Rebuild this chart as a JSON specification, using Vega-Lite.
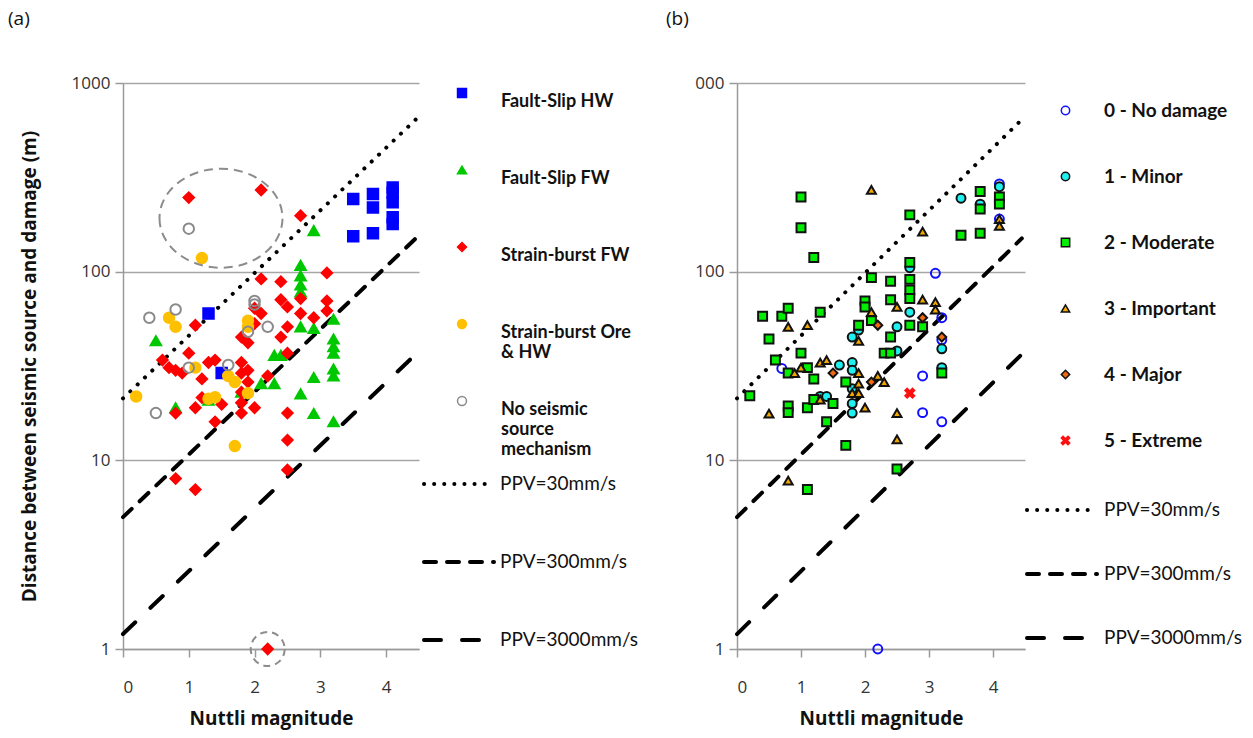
{
  "$schema": "https://vega.github.io/schema/vega-lite/v6.json",
  "background": "white",
  "padding": {"left": 8, "top": 10, "right": 2, "bottom": 2},
  "config": {
    "font": "Lato",
    "view": {"stroke": null},
    "axis": {"domainColor": "#9a9a9a", "tickColor": "#9a9a9a", "gridColor": "#a6a6a6", "labelColor": "#333333", "titleColor": "#111111", "labelFont": "Open Sans", "titleFont": "Open Sans", "labelFontSize": 17, "titleFontSize": 19, "titleFontWeight": "bold", "domainWidth": 1.5, "gridWidth": 1.5, "tickWidth": 1.5, "tickSize": 8},
    "title": {"font": "Open Sans", "fontSize": 19, "fontWeight": "normal", "color": "#111111"}
  },
  "datasets": {
    "a": [
      {"t": "Fault-Slip HW", "m": 3.5, "d": 243}, {"t": "Fault-Slip HW", "m": 3.5, "d": 154}, {"t": "Fault-Slip HW", "m": 3.8, "d": 258}, {"t": "Fault-Slip HW", "m": 3.8, "d": 219}, {"t": "Fault-Slip HW", "m": 3.8, "d": 160}, {"t": "Fault-Slip HW", "m": 4.1, "d": 279}, {"t": "Fault-Slip HW", "m": 4.1, "d": 262}, {"t": "Fault-Slip HW", "m": 4.1, "d": 233}, {"t": "Fault-Slip HW", "m": 4.1, "d": 194}, {"t": "Fault-Slip HW", "m": 4.1, "d": 179}, {"t": "Fault-Slip HW", "m": 1.3, "d": 60}, {"t": "Fault-Slip HW", "m": 1.5, "d": 29},
      {"t": "Fault-Slip FW", "m": 2.9, "d": 165}, {"t": "Fault-Slip FW", "m": 2.7, "d": 108}, {"t": "Fault-Slip FW", "m": 2.7, "d": 95}, {"t": "Fault-Slip FW", "m": 2.7, "d": 85}, {"t": "Fault-Slip FW", "m": 2.7, "d": 78}, {"t": "Fault-Slip FW", "m": 2.7, "d": 51}, {"t": "Fault-Slip FW", "m": 2.9, "d": 50}, {"t": "Fault-Slip FW", "m": 3.2, "d": 56}, {"t": "Fault-Slip FW", "m": 3.2, "d": 44}, {"t": "Fault-Slip FW", "m": 3.2, "d": 40}, {"t": "Fault-Slip FW", "m": 3.2, "d": 37}, {"t": "Fault-Slip FW", "m": 2.3, "d": 36}, {"t": "Fault-Slip FW", "m": 2.4, "d": 36}, {"t": "Fault-Slip FW", "m": 3.2, "d": 30.5}, {"t": "Fault-Slip FW", "m": 3.2, "d": 28}, {"t": "Fault-Slip FW", "m": 2.9, "d": 27.5}, {"t": "Fault-Slip FW", "m": 2.1, "d": 25.5}, {"t": "Fault-Slip FW", "m": 2.3, "d": 25.5}, {"t": "Fault-Slip FW", "m": 2.7, "d": 22.5}, {"t": "Fault-Slip FW", "m": 2.9, "d": 17.7}, {"t": "Fault-Slip FW", "m": 3.2, "d": 16}, {"t": "Fault-Slip FW", "m": 0.5, "d": 43}, {"t": "Fault-Slip FW", "m": 0.8, "d": 19}, {"t": "Fault-Slip FW", "m": 1.8, "d": 23}, {"t": "Fault-Slip FW", "m": 1.3, "d": 20.8},
      {"t": "Strain-burst FW", "m": 1.0, "d": 247}, {"t": "Strain-burst FW", "m": 2.1, "d": 271}, {"t": "Strain-burst FW", "m": 2.7, "d": 198}, {"t": "Strain-burst FW", "m": 3.1, "d": 98.5}, {"t": "Strain-burst FW", "m": 2.1, "d": 91.5}, {"t": "Strain-burst FW", "m": 2.4, "d": 88.5}, {"t": "Strain-burst FW", "m": 2.4, "d": 71}, {"t": "Strain-burst FW", "m": 2.5, "d": 65}, {"t": "Strain-burst FW", "m": 2.7, "d": 72}, {"t": "Strain-burst FW", "m": 3.1, "d": 70}, {"t": "Strain-burst FW", "m": 3.1, "d": 62}, {"t": "Strain-burst FW", "m": 2.0, "d": 64}, {"t": "Strain-burst FW", "m": 2.1, "d": 60}, {"t": "Strain-burst FW", "m": 2.7, "d": 60}, {"t": "Strain-burst FW", "m": 2.9, "d": 57}, {"t": "Strain-burst FW", "m": 2.0, "d": 53}, {"t": "Strain-burst FW", "m": 2.5, "d": 51}, {"t": "Strain-burst FW", "m": 1.8, "d": 45}, {"t": "Strain-burst FW", "m": 1.9, "d": 42}, {"t": "Strain-burst FW", "m": 2.4, "d": 45}, {"t": "Strain-burst FW", "m": 1.1, "d": 52}, {"t": "Strain-burst FW", "m": 1.0, "d": 37}, {"t": "Strain-burst FW", "m": 0.6, "d": 34}, {"t": "Strain-burst FW", "m": 0.7, "d": 31}, {"t": "Strain-burst FW", "m": 0.8, "d": 30}, {"t": "Strain-burst FW", "m": 0.9, "d": 29}, {"t": "Strain-burst FW", "m": 1.3, "d": 33}, {"t": "Strain-burst FW", "m": 1.4, "d": 34}, {"t": "Strain-burst FW", "m": 1.8, "d": 33}, {"t": "Strain-burst FW", "m": 1.9, "d": 30}, {"t": "Strain-burst FW", "m": 1.8, "d": 29}, {"t": "Strain-burst FW", "m": 1.2, "d": 27}, {"t": "Strain-burst FW", "m": 2.2, "d": 28}, {"t": "Strain-burst FW", "m": 2.5, "d": 37}, {"t": "Strain-burst FW", "m": 1.9, "d": 26}, {"t": "Strain-burst FW", "m": 1.8, "d": 23}, {"t": "Strain-burst FW", "m": 1.8, "d": 20.2}, {"t": "Strain-burst FW", "m": 1.8, "d": 17.8}, {"t": "Strain-burst FW", "m": 2.0, "d": 19}, {"t": "Strain-burst FW", "m": 1.1, "d": 19}, {"t": "Strain-burst FW", "m": 1.2, "d": 21.5}, {"t": "Strain-burst FW", "m": 1.5, "d": 19.8}, {"t": "Strain-burst FW", "m": 1.4, "d": 16}, {"t": "Strain-burst FW", "m": 0.8, "d": 17.8}, {"t": "Strain-burst FW", "m": 2.5, "d": 17.8}, {"t": "Strain-burst FW", "m": 2.5, "d": 12.8}, {"t": "Strain-burst FW", "m": 2.5, "d": 8.9}, {"t": "Strain-burst FW", "m": 0.8, "d": 8.0}, {"t": "Strain-burst FW", "m": 1.1, "d": 7.0}, {"t": "Strain-burst FW", "m": 2.2, "d": 1},
      {"t": "Strain-burst Ore & HW", "m": 1.2, "d": 118}, {"t": "Strain-burst Ore & HW", "m": 0.7, "d": 57}, {"t": "Strain-burst Ore & HW", "m": 0.8, "d": 51}, {"t": "Strain-burst Ore & HW", "m": 1.9, "d": 51}, {"t": "Strain-burst Ore & HW", "m": 1.9, "d": 55}, {"t": "Strain-burst Ore & HW", "m": 1.1, "d": 31}, {"t": "Strain-burst Ore & HW", "m": 1.6, "d": 28}, {"t": "Strain-burst Ore & HW", "m": 1.7, "d": 26}, {"t": "Strain-burst Ore & HW", "m": 1.9, "d": 22.7}, {"t": "Strain-burst Ore & HW", "m": 1.3, "d": 21.2}, {"t": "Strain-burst Ore & HW", "m": 1.4, "d": 21.6}, {"t": "Strain-burst Ore & HW", "m": 0.2, "d": 21.8}, {"t": "Strain-burst Ore & HW", "m": 1.7, "d": 11.9},
      {"t": "No seismic source mechanism", "m": 1.0, "d": 169}, {"t": "No seismic source mechanism", "m": 0.4, "d": 57}, {"t": "No seismic source mechanism", "m": 0.8, "d": 63}, {"t": "No seismic source mechanism", "m": 2.0, "d": 70}, {"t": "No seismic source mechanism", "m": 2.0, "d": 67}, {"t": "No seismic source mechanism", "m": 2.2, "d": 51}, {"t": "No seismic source mechanism", "m": 1.9, "d": 48}, {"t": "No seismic source mechanism", "m": 1.0, "d": 31}, {"t": "No seismic source mechanism", "m": 1.6, "d": 32}, {"t": "No seismic source mechanism", "m": 0.5, "d": 17.8}
    ],
    "b": [
      {"t": "0 - No damage", "m": 0.7, "d": 30.7}, {"t": "0 - No damage", "m": 3.1, "d": 98}, {"t": "0 - No damage", "m": 3.2, "d": 57}, {"t": "0 - No damage", "m": 3.2, "d": 43.5}, {"t": "0 - No damage", "m": 2.9, "d": 28}, {"t": "0 - No damage", "m": 2.9, "d": 17.9}, {"t": "0 - No damage", "m": 3.2, "d": 16}, {"t": "0 - No damage", "m": 2.2, "d": 1}, {"t": "0 - No damage", "m": 4.1, "d": 190}, {"t": "0 - No damage", "m": 4.1, "d": 292},
      {"t": "1 - Minor", "m": 3.5, "d": 245}, {"t": "1 - Minor", "m": 3.8, "d": 228}, {"t": "1 - Minor", "m": 4.1, "d": 282}, {"t": "1 - Minor", "m": 2.7, "d": 105}, {"t": "1 - Minor", "m": 2.7, "d": 61}, {"t": "1 - Minor", "m": 2.5, "d": 51}, {"t": "1 - Minor", "m": 1.8, "d": 45}, {"t": "1 - Minor", "m": 1.9, "d": 49}, {"t": "1 - Minor", "m": 2.5, "d": 38}, {"t": "1 - Minor", "m": 3.2, "d": 39}, {"t": "1 - Minor", "m": 3.2, "d": 31}, {"t": "1 - Minor", "m": 1.6, "d": 32}, {"t": "1 - Minor", "m": 1.8, "d": 33}, {"t": "1 - Minor", "m": 1.8, "d": 30}, {"t": "1 - Minor", "m": 1.3, "d": 21.8}, {"t": "1 - Minor", "m": 1.4, "d": 21.8}, {"t": "1 - Minor", "m": 1.8, "d": 20}, {"t": "1 - Minor", "m": 1.8, "d": 17.8}, {"t": "1 - Minor", "m": 1.8, "d": 24},
      {"t": "2 - Moderate", "m": 1.0, "d": 249}, {"t": "2 - Moderate", "m": 1.0, "d": 171}, {"t": "2 - Moderate", "m": 1.2, "d": 119}, {"t": "2 - Moderate", "m": 2.7, "d": 200}, {"t": "2 - Moderate", "m": 3.8, "d": 266}, {"t": "2 - Moderate", "m": 3.8, "d": 215}, {"t": "2 - Moderate", "m": 4.1, "d": 249}, {"t": "2 - Moderate", "m": 4.1, "d": 228}, {"t": "2 - Moderate", "m": 3.5, "d": 156}, {"t": "2 - Moderate", "m": 3.8, "d": 160}, {"t": "2 - Moderate", "m": 2.7, "d": 112}, {"t": "2 - Moderate", "m": 2.1, "d": 93}, {"t": "2 - Moderate", "m": 2.4, "d": 89}, {"t": "2 - Moderate", "m": 2.7, "d": 91}, {"t": "2 - Moderate", "m": 2.7, "d": 80}, {"t": "2 - Moderate", "m": 2.7, "d": 72}, {"t": "2 - Moderate", "m": 2.4, "d": 71}, {"t": "2 - Moderate", "m": 2.0, "d": 70}, {"t": "2 - Moderate", "m": 2.0, "d": 65}, {"t": "2 - Moderate", "m": 2.1, "d": 55}, {"t": "2 - Moderate", "m": 1.9, "d": 52}, {"t": "2 - Moderate", "m": 2.7, "d": 52}, {"t": "2 - Moderate", "m": 2.9, "d": 51}, {"t": "2 - Moderate", "m": 2.4, "d": 45}, {"t": "2 - Moderate", "m": 2.3, "d": 37}, {"t": "2 - Moderate", "m": 2.4, "d": 37}, {"t": "2 - Moderate", "m": 3.2, "d": 29}, {"t": "2 - Moderate", "m": 0.4, "d": 58}, {"t": "2 - Moderate", "m": 0.7, "d": 58}, {"t": "2 - Moderate", "m": 0.8, "d": 64}, {"t": "2 - Moderate", "m": 1.3, "d": 61}, {"t": "2 - Moderate", "m": 0.5, "d": 44}, {"t": "2 - Moderate", "m": 1.0, "d": 37}, {"t": "2 - Moderate", "m": 0.6, "d": 34}, {"t": "2 - Moderate", "m": 0.8, "d": 29}, {"t": "2 - Moderate", "m": 1.1, "d": 31}, {"t": "2 - Moderate", "m": 1.2, "d": 27}, {"t": "2 - Moderate", "m": 1.7, "d": 26}, {"t": "2 - Moderate", "m": 0.2, "d": 22}, {"t": "2 - Moderate", "m": 0.8, "d": 19.4}, {"t": "2 - Moderate", "m": 0.8, "d": 17.9}, {"t": "2 - Moderate", "m": 1.1, "d": 19}, {"t": "2 - Moderate", "m": 1.2, "d": 21}, {"t": "2 - Moderate", "m": 1.5, "d": 20}, {"t": "2 - Moderate", "m": 1.4, "d": 16}, {"t": "2 - Moderate", "m": 1.7, "d": 12}, {"t": "2 - Moderate", "m": 2.5, "d": 9.0}, {"t": "2 - Moderate", "m": 1.1, "d": 7.0},
      {"t": "3 - Important", "m": 2.1, "d": 271}, {"t": "3 - Important", "m": 2.9, "d": 163}, {"t": "3 - Important", "m": 4.1, "d": 190}, {"t": "3 - Important", "m": 4.1, "d": 175}, {"t": "3 - Important", "m": 2.9, "d": 71}, {"t": "3 - Important", "m": 3.1, "d": 69}, {"t": "3 - Important", "m": 3.1, "d": 63}, {"t": "3 - Important", "m": 2.5, "d": 65}, {"t": "3 - Important", "m": 2.1, "d": 61}, {"t": "3 - Important", "m": 0.8, "d": 51}, {"t": "3 - Important", "m": 1.1, "d": 52}, {"t": "3 - Important", "m": 1.9, "d": 43}, {"t": "3 - Important", "m": 1.3, "d": 33}, {"t": "3 - Important", "m": 1.4, "d": 34}, {"t": "3 - Important", "m": 0.9, "d": 29}, {"t": "3 - Important", "m": 1.0, "d": 31}, {"t": "3 - Important", "m": 1.9, "d": 29}, {"t": "3 - Important", "m": 2.2, "d": 28}, {"t": "3 - Important", "m": 2.3, "d": 26}, {"t": "3 - Important", "m": 1.9, "d": 25.5}, {"t": "3 - Important", "m": 1.8, "d": 22.7}, {"t": "3 - Important", "m": 1.9, "d": 22.7}, {"t": "3 - Important", "m": 1.3, "d": 21}, {"t": "3 - Important", "m": 2.0, "d": 19}, {"t": "3 - Important", "m": 0.5, "d": 17.7}, {"t": "3 - Important", "m": 2.5, "d": 17.8}, {"t": "3 - Important", "m": 2.5, "d": 12.9}, {"t": "3 - Important", "m": 0.8, "d": 7.8},
      {"t": "4 - Major", "m": 2.9, "d": 57}, {"t": "4 - Major", "m": 2.2, "d": 52}, {"t": "4 - Major", "m": 3.2, "d": 45}, {"t": "4 - Major", "m": 1.5, "d": 29}, {"t": "4 - Major", "m": 2.1, "d": 26},
      {"t": "5 - Extreme", "m": 2.7, "d": 22.7}
    ],
    "lines": [
      {"p": "PPV=30mm/s", "m": 0, "d": 21.3}, {"p": "PPV=30mm/s", "m": 4.45, "d": 640},
      {"p": "PPV=300mm/s", "m": 0, "d": 5.0}, {"p": "PPV=300mm/s", "m": 4.45, "d": 150},
      {"p": "PPV=3000mm/s", "m": 0, "d": 1.2}, {"p": "PPV=3000mm/s", "m": 4.45, "d": 36.5}
    ],
    "bigEllipse": [{"m": 1.49, "d": 192}],
    "smallCircle": [{"m": 2.2, "d": 1}]
  },
  "spacing": 28,
  "resolve": {
    "scale": {"x": "independent", "y": "independent", "shape": "independent", "fill": "independent", "stroke": "independent", "strokeDash": "independent"},
    "legend": {"shape": "independent", "fill": "independent", "stroke": "independent", "strokeDash": "independent"}
  },
  "hconcat": [
    {
      "width": 296,
      "height": 566,
      "title": {"text": "(a)", "anchor": "start", "frame": "group", "dx": -115, "offset": 45},
      "layer": [
        {
          "data": {"name": "lines"},
          "mark": {"type": "line", "strokeWidth": 4, "color": "black", "strokeCap": "round"},
          "encoding": {
            "x": {"field": "m", "type": "quantitative", "scale": {"domain": [0, 4.5], "nice": false}, "axis": {"values": [0, 1, 2, 3, 4], "format": "d", "grid": false, "title": "Nuttli magnitude", "labelPadding": 22, "titlePadding": 14}},
            "y": {"field": "d", "type": "quantitative", "scale": {"type": "log", "domain": [1, 1000], "nice": false}, "axis": {"values": [1, 10, 100, 1000], "format": "d", "grid": true, "title": "Distance between seismic source and damage (m)", "labelPadding": 5, "titlePadding": 32}},
            "strokeDash": {
              "field": "p", "type": "nominal",
              "scale": {"domain": ["PPV=30mm/s", "PPV=300mm/s", "PPV=3000mm/s"], "range": [[0.1, 10], [12, 11], [17, 21]]},
              "legend": {"orient": "none", "legendX": 299, "legendY": 364, "title": null, "symbolType": "stroke", "symbolSize": 4900, "symbolStrokeWidth": 4, "symbolStrokeColor": "black", "labelOffset": 4, "labelFontSize": 19, "labelColor": "#111111", "rowPadding": 31, "labelFont": "Lato", "encode": {"symbols": {"update": {"strokeCap": {"value": "round"}}}}}
            }
          }
        },
        {
          "data": {"name": "a"},
          "mark": {"type": "point", "opacity": 1, "strokeWidth": 2, "size": 110},
          "encoding": {
            "x": {"field": "m", "type": "quantitative"},
            "y": {"field": "d", "type": "quantitative"},
            "shape": {"field": "t", "type": "nominal", "scale": {"domain": ["Fault-Slip HW", "Fault-Slip FW", "Strain-burst FW", "Strain-burst Ore & HW", "No seismic source mechanism"], "range": ["square", "triangle-up", "diamond", "circle", "circle"]},
              "legend": {"orient": "none", "legendX": 330, "legendY": 1, "title": null, "symbolSize": 80, "labelOffset": 30, "labelFontSize": 18, "labelFontWeight": "bold", "labelColor": "#111111", "labelFont": "Lato", "rowPadding": 10, "gridAlign": "all", "labelLimit": 400, "labelBaseline": "top",
                "labelExpr": "datum.value == 'No seismic source mechanism' ? ['No seismic', 'source', 'mechanism'] : datum.value == 'Strain-burst Ore & HW' ? ['Strain-burst Ore', '& HW'] : datum.label",
                "encode": {"labels": {"update": {"dy": {"value": -10}}}}}},
            "fill": {"field": "t", "type": "nominal", "scale": {"domain": ["Fault-Slip HW", "Fault-Slip FW", "Strain-burst FW", "Strain-burst Ore & HW", "No seismic source mechanism"], "range": ["#0000ff", "#00c800", "#ff0000", "#ffc000", "transparent"]}},
            "stroke": {"field": "t", "type": "nominal", "scale": {"domain": ["Fault-Slip HW", "Fault-Slip FW", "Strain-burst FW", "Strain-burst Ore & HW", "No seismic source mechanism"], "range": ["#0000ff", "#00c800", "#ff0000", "#ffc000", "#8a8a8a"]}}
          }
        },
        {
          "data": {"name": "bigEllipse"},
          "mark": {"type": "point", "opacity": 1, "filled": false, "stroke": "#8c8c8c", "strokeWidth": 2, "strokeDash": [9, 6], "size": 15129, "shape": "M-1,0A1,0.805,0,1,0,1,0A1,0.805,0,1,0,-1,0Z"},
          "encoding": {"x": {"field": "m", "type": "quantitative"}, "y": {"field": "d", "type": "quantitative"}}
        },
        {
          "data": {"name": "smallCircle"},
          "mark": {"type": "point", "opacity": 1, "filled": false, "stroke": "#8c8c8c", "strokeWidth": 2, "strokeDash": [7, 5], "size": 1156, "shape": "circle"},
          "encoding": {"x": {"field": "m", "type": "quantitative"}, "y": {"field": "d", "type": "quantitative"}}
        }
      ]
    },
    {
      "width": 288,
      "height": 566,
      "title": {"text": "(b)", "anchor": "start", "frame": "group", "dx": -71, "offset": 45},
      "layer": [
        {
          "data": {"name": "lines"},
          "mark": {"type": "line", "strokeWidth": 4, "color": "black", "strokeCap": "round"},
          "encoding": {
            "x": {"field": "m", "type": "quantitative", "scale": {"domain": [0, 4.5], "nice": false}, "axis": {"values": [0, 1, 2, 3, 4], "format": "d", "grid": false, "title": "Nuttli magnitude", "labelPadding": 22, "titlePadding": 14}},
            "y": {"field": "d", "type": "quantitative", "scale": {"type": "log", "domain": [1, 1000], "nice": false}, "axis": {"values": [1, 10, 100, 1000], "format": "d", "grid": true, "title": null, "labelPadding": 5, "labelExpr": "datum.value == 1000 ? '000' : datum.label"}},
            "strokeDash": {
              "field": "p", "type": "nominal",
              "scale": {"domain": ["PPV=30mm/s", "PPV=300mm/s", "PPV=3000mm/s"], "range": [[0.1, 10], [12, 11], [17, 21]]},
              "legend": {"orient": "none", "legendX": 288, "legendY": 390, "title": null, "symbolType": "stroke", "symbolSize": 4900, "symbolStrokeWidth": 4, "symbolStrokeColor": "black", "labelOffset": 5, "labelFontSize": 19, "labelColor": "#111111", "rowPadding": 17, "labelFont": "Lato", "encode": {"symbols": {"update": {"strokeCap": {"value": "round"}}}}}
            }
          }
        },
        {
          "data": {"name": "b"},
          "mark": {"type": "point", "opacity": 1, "strokeWidth": 2, "size": 80},
          "encoding": {
            "x": {"field": "m", "type": "quantitative"},
            "y": {"field": "d", "type": "quantitative"},
            "shape": {"field": "t", "type": "nominal", "scale": {"domain": ["0 - No damage", "1 - Minor", "2 - Moderate", "3 - Important", "4 - Major", "5 - Extreme"], "range": ["circle", "circle", "square", "triangle-up", "diamond", "M-1,-0.6L-0.6,-1L0,-0.4L0.6,-1L1,-0.6L0.4,0L1,0.6L0.6,1L0,0.4L-0.6,1L-1,0.6L-0.4,0Z"]},
              "legend": {"orient": "none", "legendX": 319, "legendY": 18, "title": null, "symbolSize": 70, "labelOffset": 29, "labelFontSize": 19, "labelFontWeight": "bold", "labelColor": "#111111", "labelFont": "Lato", "rowPadding": 46, "labelLimit": 400}},
            "fill": {"field": "t", "type": "nominal", "scale": {"domain": ["0 - No damage", "1 - Minor", "2 - Moderate", "3 - Important", "4 - Major", "5 - Extreme"], "range": ["transparent", "#1ff0f0", "#00ee00", "#f2a800", "#f26a10", "#ff1010"]}},
            "stroke": {"field": "t", "type": "nominal", "scale": {"domain": ["0 - No damage", "1 - Minor", "2 - Moderate", "3 - Important", "4 - Major", "5 - Extreme"], "range": ["#1010ff", "#111111", "#111111", "#111111", "#111111", "#ff1010"]}}
          }
        }
      ]
    }
  ]
}
